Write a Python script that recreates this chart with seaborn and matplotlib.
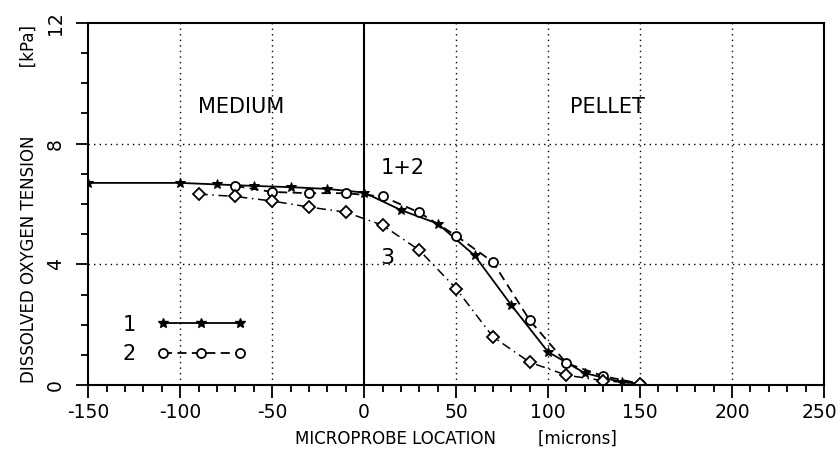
import matplotlib.pyplot as plt
import matplotlib.transforms as mtransforms
import seaborn as sns
import pandas as pd
from matplotlib.lines import Line2D

# series 1: solid line, star markers
x1 = [-150, -100, -80, -60, -40, -20, 0, 20, 40, 60, 80, 100, 120, 140, 150]
y1 = [6.7, 6.7, 6.65, 6.6, 6.56, 6.5, 6.38, 5.8, 5.35, 4.3, 2.65, 1.1, 0.4, 0.1, 0.05]

# series 2: dashed line, open circles
x2 = [-70, -50, -30, -10, 10, 30, 50, 70, 90, 110, 130, 150]
y2 = [6.6, 6.4, 6.36, 6.36, 6.25, 5.72, 4.95, 4.08, 2.15, 0.73, 0.3, 0.05]

# series 3: dash-dot line, open diamonds
x3 = [-90, -70, -50, -30, -10, 10, 30, 50, 70, 90, 110, 130, 150]
y3 = [6.33, 6.25, 6.1, 5.9, 5.73, 5.3, 4.47, 3.2, 1.6, 0.76, 0.33, 0.15, 0.05]

x_ticks = [-150, -100, -50, 0, 50, 100, 150, 200, 250]
y_ticks = [0, 4, 8, 12]

sns.set_style("ticks")
plt.rcParams['font.family'] = ['DejaVu Sans']
plt.rcParams['axes.unicode_minus'] = False
for k in ['text.color', 'axes.labelcolor', 'xtick.color', 'ytick.color']:
    plt.rcParams[k] = 'black'

fig = plt.figure(figsize=(8.4, 4.58), dpi=100)
ax = fig.add_axes([0.105, 0.159, 0.876, 0.791])

df1 = pd.DataFrame({'x': x1, 'y': y1})
df2 = pd.DataFrame({'x': x2, 'y': y2})
df3 = pd.DataFrame({'x': x3, 'y': y3})

sns.lineplot(data=df1, x='x', y='y', ax=ax, color='black', lw=1.3,
             marker='*', markersize=7, markeredgecolor='black', sort=False)
sns.lineplot(data=df2, x='x', y='y', ax=ax, color='black', lw=1.3, linestyle=(0, (5, 3)),
             marker='o', markersize=6.5, markerfacecolor='white',
             markeredgecolor='black', markeredgewidth=1.3, sort=False)
sns.lineplot(data=df3, x='x', y='y', ax=ax, color='black', lw=1.1, linestyle=(0, (6, 3, 1, 3)),
             marker='D', markersize=6, markerfacecolor='white',
             markeredgecolor='black', markeredgewidth=1.3, sort=False)

ax.set_xlim(-150, 250)
ax.set_ylim(0, 12)
ax.set_xticks(x_ticks)
ax.set_yticks(y_ticks)
ax.set_xticks(range(-150, 251, 10), minor=True)
ax.set_yticks(range(0, 13), minor=True)
ax.tick_params(axis='both', which='major', direction='out', length=9, width=1.3,
               labelsize=13.5)
ax.tick_params(axis='y', which='major', pad=8)
ax.tick_params(axis='both', which='minor', direction='out', length=5, width=1.3)
for lab in ax.get_yticklabels():
    lab.set_rotation(90)
    lab.set_va('center')

# keep the last x label inside the canvas
last = ax.get_xticklabels()[-1]
last.set_transform(last.get_transform() +
                   mtransforms.ScaledTranslation(-5 / 100, 0, fig.dpi_scale_trans))

for s in ax.spines.values():
    s.set_linewidth(1.5)
    s.set_color('black')

# dotted grid
for gx in [-100, -50, 50, 100, 150, 200]:
    ax.axvline(gx, color='black', ls=(0, (1, 3)), lw=1.0, zorder=0)
for gy in [4, 8]:
    ax.axhline(gy, color='black', ls=(0, (1, 3)), lw=1.0, zorder=0)
ax.axvline(0, color='black', lw=1.5, zorder=1)

ax.set_xlabel("MICROPROBE LOCATION        [microns]", fontsize=12, labelpad=6)
ax.set_ylabel("DISSOLVED OXYGEN TENSION             [kPa]", fontsize=12, labelpad=6)

ax.text(-67, 9.2, "MEDIUM", fontsize=15, ha='center', va='center')
ax.text(132, 9.2, "PELLET", fontsize=15, ha='center', va='center')
ax.text(9, 7.2, "1+2", fontsize=15, ha='left', va='center')
ax.text(9, 4.2, "3", fontsize=16, ha='left', va='center')

handles = [
    Line2D([], [], color='black', lw=1.3, marker='*', markersize=7),
    Line2D([], [], color='black', lw=1.3, ls=(0, (5, 3)), marker='o', markersize=6.5,
           markerfacecolor='white', markeredgewidth=1.3),
]
ax.legend(handles, ['1', '2'], loc='lower left', bbox_to_anchor=(0.035, 0.035),
          borderaxespad=0, frameon=False, markerfirst=False, numpoints=3,
          handlelength=4.3, fontsize=15, labelspacing=0.45, handletextpad=1.0)

fig.savefig("out.png", dpi=100)
